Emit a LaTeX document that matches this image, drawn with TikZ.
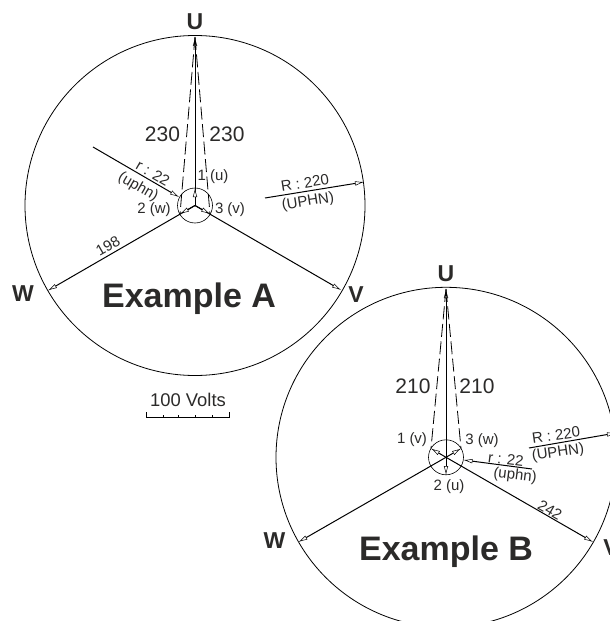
\documentclass[tikz,border=0pt]{standalone}
\usepackage{fontspec}
\setmainfont{Liberation Sans}
\usetikzlibrary{arrows.meta}
\definecolor{ink}{HTML}{2B2A29}
\tikzset{
  big/.style={draw=black,line width=0.8pt},
  small/.style={draw=black,line width=0.6pt},
  phase/.style={draw=black,line width=1pt,-{Latex[open,fill=white,length=9pt,width=4.5pt,line width=0.5pt]}},
  dashy/.style={draw=black,line width=0.8pt,dash pattern=on 13pt off 4.5pt},
  lab/.style={inner sep=0pt,text=ink,font=\fontsize{15}{15}\selectfont},
  num/.style={inner sep=0pt,text=ink,font=\fontsize{21}{21}\selectfont},
  phasename/.style={inner sep=0pt,text=ink,font=\bfseries\fontsize{23}{23}\selectfont},
  title/.style={inner sep=0pt,text=ink,font=\bfseries\fontsize{34}{34}\selectfont},
}
\begin{document}
\begin{tikzpicture}[x=1pt,y=-1pt]
\useasboundingbox (0,0) rectangle (610,621);
\begin{scope}
\clip (0,0) rectangle (610,621);
% Example A
\coordinate (ca) at (195,205.5);
\node[big,circle,minimum size=340pt,inner sep=0pt] (oa) at (ca) {};
\node[small,circle,minimum size=35pt,inner sep=0pt] (ia) at (ca) {};
\coordinate (ua) at (195,37);
\coordinate (va) at (341,290);
\coordinate (wa) at (48,290.5);
\coordinate (iua) at (195,188);
\coordinate (iva) at (210,214);
\coordinate (iwa) at (180,214);
\coordinate (ra0) at (93,147);
\coordinate (ra1) at (179,197);
\coordinate (Ra0) at (265,198);
\coordinate (Ra1) at (364,182);
\draw[phase] (ca) -- (ua);
\draw[phase] (ca) -- (va);
\draw[phase] (ca) -- (wa);
\draw[phase] (ca) -- (iua);
\draw[phase] (ca) -- (iva);
\draw[phase] (ca) -- (iwa);
\draw[phase] (ra0) -- (ra1);
\draw[phase] (Ra0) -- (Ra1);
\draw[dashy] (ua) -- (iwa);
\draw[dashy] (ua) -- (iva);
\node[phasename] (lua) at (195,22) {U};
\node[phasename] (lva) at (356,295) {V};
\node[phasename] (lwa) at (23,294) {W};
\node[title] (ta) at (189,298.5) {Example A};
\node[num] (n1a) at (162.5,134) {230};
\node[num] (n2a) at (227,134) {230};
\node[lab] (l1a) at (213,177) {1 (u)};
\node[lab] (l2a) at (154,210) {2 (w)};
\node[lab] (l3a) at (230,210) {3 (v)};
\node[lab,rotate=-30] (l4a) at (153,173) {r : 22};
\node[lab,rotate=-30] (l5a) at (138,187) {(uphn)};
\node[lab,rotate=30] (l6a) at (108,246) {198};
\node[lab,rotate=9] (l7a) at (305,183) {R : 220};
\node[lab,rotate=9] (l8a) at (308,202) {(UPHN)};
% scale
\node[inner sep=0pt,text=ink,font=\fontsize{18.4}{18.4}\selectfont] (sc) at (188,400) {100 Volts};
\coordinate (s0) at (146.5,417);
\coordinate (s5) at (229,417);
\draw[small,line width=0.8pt] (146.5,412) -- (s0) -- (s5) -- (229,412);
\foreach \x in {163,178.5,195.5,212.5}{\draw[small,line width=0.8pt] (\x,417) -- (\x,414.5);}
% Example B
\coordinate (cb) at (446,457.3);
\node[big,circle,minimum size=340pt,inner sep=0pt] (ob) at (cb) {};
\node[small,circle,minimum size=35pt,inner sep=0pt] (ib) at (cb) {};
\coordinate (ub) at (446,289);
\coordinate (vb) at (593,542);
\coordinate (wb) at (298.5,542);
\coordinate (iub) at (446,475);
\coordinate (ivb) at (431,448.5);
\coordinate (iwb) at (461,448.5);
\coordinate (rb0) at (532,469);
\coordinate (rb1) at (463.5,460);
\coordinate (Rb0) at (529,448);
\coordinate (Rb1) at (616,433);
\draw[phase] (cb) -- (ub);
\draw[phase] (cb) -- (vb);
\draw[phase] (cb) -- (wb);
\draw[phase] (cb) -- (iub);
\draw[phase] (cb) -- (ivb);
\draw[phase] (cb) -- (iwb);
\draw[phase] (rb0) -- (rb1);
\draw[phase] (Rb0) -- (Rb1);
\draw[dashy] (ub) -- (ivb);
\draw[dashy] (ub) -- (iwb);
\node[phasename] (lvb) at (611,548) {V};
\end{scope}
\node[phasename] (lub) at (446,274) {U};
\node[phasename] (lwb) at (274.5,541) {W};
\node[title] (tb) at (446,552) {Example B};
\node[num] (n1b) at (413,386) {210};
\node[num] (n2b) at (477,386) {210};
\node[lab] (l1b) at (412,440) {1 (v)};
\node[lab] (l2b) at (449,487) {2 (u)};
\node[lab] (l3b) at (482,441) {3 (w)};
\node[lab,rotate=-7] (l4b) at (506,459) {r : 22};
\node[lab,rotate=-7] (l5b) at (515,476) {(uphn)};
\node[lab,rotate=-30] (l6b) at (550,510) {242};
\node[lab,rotate=8] (l7b) at (556,435) {R : 220};
\node[lab,rotate=8] (l8b) at (558,453) {(UPHN)};
\end{tikzpicture}
\end{document}
